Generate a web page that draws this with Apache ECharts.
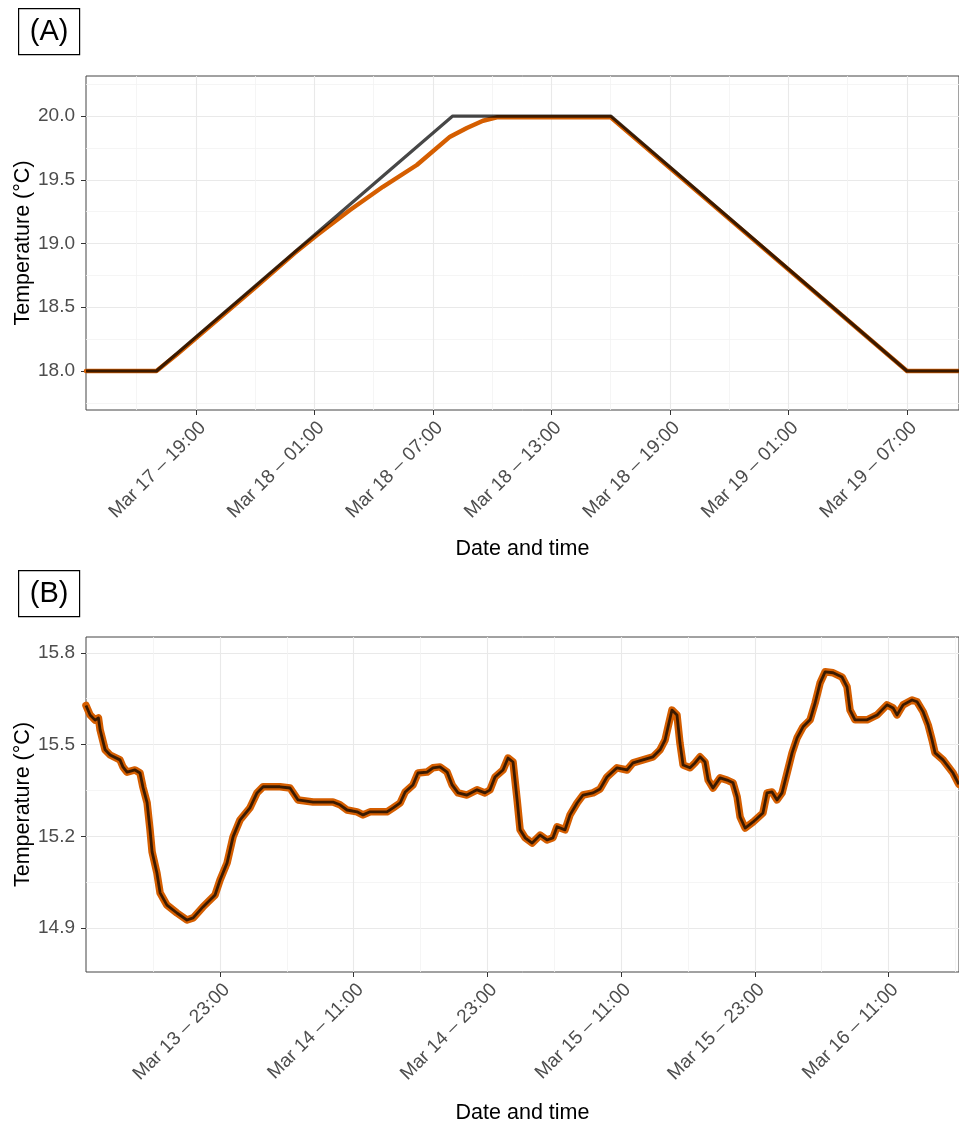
<!DOCTYPE html>
<html>
<head>
<meta charset="utf-8">
<title>Temperature profiles</title>
<script src="https://cdn.jsdelivr.net/npm/echarts@6/dist/echarts.min.js"></script>
<style>
  html, body { margin: 0; padding: 0; background: #fff; }
  #chart { width: 959px; height: 1125px; }
</style>
</head>
<body>
<div id="chart"></div>
<script>
// ---- Panel A: programmed ramp (setpoint) and measured temperature ----
const rampTimes = ['03-17 13:26', '03-17 17:00', '03-18 08:00', '03-18 16:00', '03-19 07:00', '03-19 09:38'];
const rampTemps = [18.0, 18.0, 20.0, 20.0, 18.0, 18.0];

const measuredATimes = ['03-17 13:26', '03-17 17:00', '03-17 18:00', '03-17 20:00', '03-17 22:00', '03-18 00:00',
  '03-18 01:08', '03-18 02:48', '03-18 04:28', '03-18 06:11', '03-18 07:52', '03-18 08:43', '03-18 09:32',
  '03-18 10:14', '03-18 16:00', '03-19 07:00', '03-19 09:38'];
const measuredATemps = [18.0, 18.0, 18.125, 18.39, 18.655, 18.925,
  19.067, 19.263, 19.445, 19.616, 19.838, 19.906, 19.963,
  19.99, 19.99, 18.0, 18.0];

const ticksA = ['03-17 19:00', '03-18 01:00', '03-18 07:00', '03-18 13:00', '03-18 19:00', '03-19 01:00', '03-19 07:00'];
const minorTicksA = ['03-17 16:00', '03-17 22:00', '03-18 04:00', '03-18 10:00', '03-18 16:00', '03-18 22:00', '03-19 04:00'];
const yTicksA = [18.0, 18.5, 19.0, 19.5, 20.0];
const yMinorA = [17.75, 18.25, 18.75, 19.25, 19.75, 20.25];

// ---- Panel B: ambient temperature record ----
const recordBTimes = ['03-13 10:58', '03-13 11:20', '03-13 11:47', '03-13 12:05', '03-13 12:14', '03-13 12:41',
  '03-13 13:08', '03-13 14:01', '03-13 14:17', '03-13 14:39', '03-13 15:22', '03-13 15:49', '03-13 16:05',
  '03-13 16:27', '03-13 16:43', '03-13 16:54', '03-13 17:20', '03-13 17:37', '03-13 18:14', '03-13 19:08',
  '03-13 20:02', '03-13 20:35', '03-13 21:28', '03-13 22:33', '03-13 23:00', '03-13 23:38', '03-14 00:10',
  '03-14 00:48', '03-14 01:41', '03-14 02:19', '03-14 02:52', '03-14 04:23', '03-14 05:17', '03-14 06:00',
  '03-14 07:21', '03-14 09:08', '03-14 09:46', '03-14 10:24', '03-14 11:18', '03-14 11:50', '03-14 12:28',
  '03-14 13:59', '03-14 14:32', '03-14 15:10', '03-14 15:37', '03-14 16:19', '03-14 16:46', '03-14 17:35',
  '03-14 18:07', '03-14 18:45', '03-14 19:23', '03-14 19:50', '03-14 20:22', '03-14 21:10', '03-14 22:04',
  '03-14 22:47', '03-14 23:14', '03-14 23:41', '03-15 00:24', '03-15 00:51', '03-15 01:18', '03-15 01:40',
  '03-15 01:56', '03-15 02:23', '03-15 03:01', '03-15 03:44', '03-15 04:21', '03-15 04:53', '03-15 05:15',
  '03-15 05:58', '03-15 06:25', '03-15 07:03', '03-15 07:35', '03-15 08:29', '03-15 09:07', '03-15 09:44',
  '03-15 10:38', '03-15 11:32', '03-15 12:04', '03-15 12:58', '03-15 13:52', '03-15 14:30', '03-15 14:57',
  '03-15 15:13', '03-15 15:34', '03-15 16:01', '03-15 16:17', '03-15 16:34', '03-15 17:11', '03-15 17:38',
  '03-15 18:05', '03-15 18:32', '03-15 18:49', '03-15 19:15', '03-15 19:53', '03-15 20:31', '03-15 21:03',
  '03-15 21:25', '03-15 21:41', '03-15 22:08', '03-15 22:51', '03-15 23:44', '03-16 00:06', '03-16 00:33',
  '03-16 01:00', '03-16 01:27', '03-16 01:54', '03-16 02:21', '03-16 02:48', '03-16 03:20', '03-16 03:58',
  '03-16 04:25', '03-16 04:52', '03-16 05:19', '03-16 06:02', '03-16 06:50', '03-16 07:17', '03-16 07:33',
  '03-16 08:00', '03-16 09:05', '03-16 09:59', '03-16 10:52', '03-16 11:25', '03-16 11:46', '03-16 12:19',
  '03-16 13:07', '03-16 13:34', '03-16 14:07', '03-16 14:34', '03-16 14:55', '03-16 15:11', '03-16 15:54',
  '03-16 16:48', '03-16 17:15', '03-16 17:20'];
const recordBTemps = [15.628, 15.597, 15.58, 15.587, 15.548, 15.483,
  15.466, 15.45, 15.427, 15.41, 15.417, 15.407, 15.36,
  15.31, 15.22, 15.149, 15.08, 15.015, 14.975, 14.949,
  14.926, 14.933, 14.969, 15.008, 15.057, 15.113, 15.198,
  15.254, 15.293, 15.342, 15.362, 15.362, 15.358, 15.319,
  15.312, 15.312, 15.303, 15.286, 15.28, 15.27, 15.28,
  15.28, 15.293, 15.309, 15.345, 15.368, 15.407, 15.41,
  15.424, 15.427, 15.41, 15.368, 15.342, 15.335, 15.352,
  15.342, 15.352, 15.394, 15.417, 15.456, 15.443, 15.319,
  15.221, 15.195, 15.178, 15.204, 15.188, 15.195, 15.231,
  15.221, 15.27, 15.309, 15.335, 15.342, 15.355, 15.394,
  15.424, 15.417, 15.44, 15.45, 15.46, 15.483, 15.515,
  15.558, 15.613, 15.597, 15.505, 15.433, 15.424, 15.44,
  15.46, 15.443, 15.384, 15.358, 15.391, 15.384, 15.375,
  15.329, 15.263, 15.227, 15.247, 15.276, 15.342, 15.345,
  15.319, 15.342, 15.407, 15.473, 15.522, 15.558, 15.581,
  15.636, 15.702, 15.738, 15.735, 15.721, 15.689, 15.613,
  15.581, 15.581, 15.597, 15.63, 15.62, 15.597, 15.63,
  15.646, 15.64, 15.607, 15.564, 15.515, 15.473, 15.45,
  15.407, 15.375, 15.37];

const ticksB = ['03-13 23:00', '03-14 11:00', '03-14 23:00', '03-15 11:00', '03-15 23:00', '03-16 11:00'];
const minorTicksB = ['03-13 17:00', '03-14 05:00', '03-14 17:00', '03-15 05:00', '03-15 17:00', '03-16 05:00', '03-16 17:00'];
const yTicksB = [14.9, 15.2, 15.5, 15.8];
const yMinorB = [15.05, 15.35, 15.65];

const rangeA = { x: ['03-17 13:26', '03-19 09:38'], y: [17.694, 20.314] };
const rangeB = { x: ['03-13 10:58', '03-16 17:20'], y: [14.756, 15.852] };

// ---- helpers ----
const YEAR = 2021;
const MONTHS = ['Jan', 'Feb', 'Mar', 'Apr', 'May', 'Jun', 'Jul', 'Aug', 'Sep', 'Oct', 'Nov', 'Dec'];
function ts(s) {
  const [md, hm] = s.split(' ');
  const [mo, d] = md.split('-').map(Number);
  const [h, m] = hm.split(':').map(Number);
  return Date.UTC(YEAR, mo - 1, d, h, m);
}
function pad(n) { return String(n).padStart(2, '0'); }
function fmtTime(v) {
  const d = new Date(v);
  return MONTHS[d.getUTCMonth()] + ' ' + d.getUTCDate() + ' \u2013 ' + pad(d.getUTCHours()) + ':' + pad(d.getUTCMinutes());
}
function pairs(times, temps) { return times.map((t, i) => [ts(t), temps[i]]); }

const FONT = '"Liberation Sans", Arial, Helvetica, sans-serif';
const VERMILION = '#D55E00';
const SETLINE = 'rgba(0,0,0,0.72)';

function mainX(gridIndex, range, ticks, nameGap) {
  const tv = ticks.map(ts);
  return {
    type: 'value', gridIndex, min: ts(range[0]), max: ts(range[1]), position: 'bottom',
    axisLine: { show: false },
    axisTick: { show: true, customValues: tv, length: 5, lineStyle: { color: '#333', width: 1 } },
    axisLabel: {
      customValues: tv, rotate: 45, formatter: fmtTime, fontSize: 19, color: '#4d4d4d',
      fontFamily: FONT, margin: 8, align: 'right', verticalAlign: 'top', hideOverlap: false
    },
    splitLine: { show: true, lineStyle: { color: '#e9e9e9', width: 1.1 } },
    name: 'Date and time', nameLocation: 'middle', nameGap: nameGap, nameMoveOverlap: false,
    nameTextStyle: { fontSize: 21.5, color: '#000', fontFamily: FONT }
  };
}
function minorX(gridIndex, range, ticks) {
  return {
    type: 'value', gridIndex, min: ts(range[0]), max: ts(range[1]), position: 'bottom',
    axisLine: { show: false }, axisLabel: { show: false },
    axisTick: { show: false, customValues: ticks.map(ts) },
    splitLine: { show: true, lineStyle: { color: '#f2f2f2', width: 0.8 } }
  };
}
function mainY(gridIndex, range, ticks) {
  return {
    type: 'value', gridIndex, min: range[0], max: range[1], position: 'left',
    axisLine: { show: false },
    axisTick: { show: true, customValues: ticks, length: 5, lineStyle: { color: '#333', width: 1 } },
    axisLabel: {
      customValues: ticks, fontSize: 19, color: '#4d4d4d', fontFamily: FONT, margin: 11,
      formatter: v => v.toFixed(1)
    },
    splitLine: { show: true, lineStyle: { color: '#e9e9e9', width: 1.1 } },
    name: 'Temperature (\u00B0C)', nameLocation: 'middle', nameGap: 52, nameRotate: 90, nameMoveOverlap: false,
    nameTextStyle: { fontSize: 21.5, color: '#000', fontFamily: FONT }
  };
}
function minorY(gridIndex, range, ticks) {
  return {
    type: 'value', gridIndex, min: range[0], max: range[1], position: 'left',
    axisLine: { show: false }, axisLabel: { show: false },
    axisTick: { show: false, customValues: ticks },
    splitLine: { show: true, lineStyle: { color: '#f2f2f2', width: 0.8 } }
  };
}
function panelTag(label, x, y) {
  return {
    type: 'group', left: x, top: y,
    children: [
      { type: 'rect', shape: { x: 0, y: 0, width: 61, height: 46 },
        style: { fill: '#fff', stroke: '#000', lineWidth: 1.2 } },
      { type: 'text', x: 30.5, y: 23,
        style: { text: label, font: '29px ' + FONT, fill: '#000', textAlign: 'center', textVerticalAlign: 'middle' } }
    ]
  };
}

const chart = echarts.init(document.getElementById('chart'), null, { renderer: 'canvas' });
const gridBase = { left: 86, right: 0, show: true, borderColor: '#444', borderWidth: 1,
  backgroundColor: 'transparent', containLabel: false, outerBoundsMode: 'none' };
chart.setOption({
  animation: false,
  backgroundColor: '#fff',
  textStyle: { fontFamily: FONT },
  grid: [
    Object.assign({ top: 76, height: 334 }, gridBase),
    Object.assign({ top: 637, height: 335 }, gridBase)
  ],
  xAxis: [
    mainX(0, rangeA.x, ticksA, 128), minorX(0, rangeA.x, minorTicksA),
    mainX(1, rangeB.x, ticksB, 130), minorX(1, rangeB.x, minorTicksB)
  ],
  yAxis: [
    mainY(0, rangeA.y, yTicksA), minorY(0, rangeA.y, yMinorA),
    mainY(1, rangeB.y, yTicksB), minorY(1, rangeB.y, yMinorB)
  ],
  graphic: [panelTag('(A)', 18, 8), panelTag('(B)', 18, 570)],
  series: [
    {
      name: 'Measured', type: 'line', xAxisIndex: 0, yAxisIndex: 0, showSymbol: false,
      data: pairs(measuredATimes, measuredATemps),
      lineStyle: { color: VERMILION, width: 4.4, cap: 'round', join: 'round' }, z: 2
    },
    {
      name: 'Setpoint', type: 'line', xAxisIndex: 0, yAxisIndex: 0, showSymbol: false,
      data: pairs(rampTimes, rampTemps),
      lineStyle: { color: SETLINE, width: 3.2, join: 'round' }, z: 3
    },
    {
      name: 'Measured', type: 'line', xAxisIndex: 2, yAxisIndex: 2, showSymbol: false,
      data: pairs(recordBTimes, recordBTemps),
      lineStyle: { color: VERMILION, width: 7.5, cap: 'round', join: 'round' }, z: 2
    },
    {
      name: 'Setpoint', type: 'line', xAxisIndex: 2, yAxisIndex: 2, showSymbol: false,
      data: pairs(recordBTimes, recordBTemps),
      lineStyle: { color: SETLINE, width: 2.8, join: 'round' }, z: 3
    }
  ]
});
</script>
</body>
</html>
